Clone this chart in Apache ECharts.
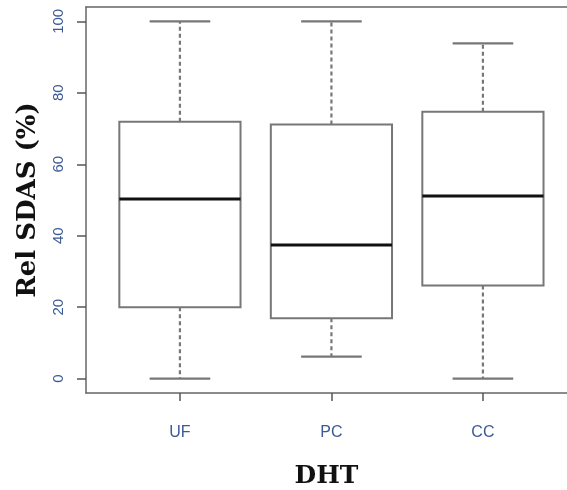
<!DOCTYPE html>
<html><head><meta charset="utf-8">
<script src="https://cdn.jsdelivr.net/npm/echarts@6/dist/echarts.min.js"></script>
<style>html,body{margin:0;padding:0;background:#fff}#c{width:567px;height:490px}</style>
</head><body><div id="c"></div>
<script>
const categories = ['UF', 'PC', 'CC'];
const whiskerLow = [0, 6.2, 0];
const q1 = [20, 16.9, 26.1];
const median = [50.3, 37.4, 51.1];
const q3 = [71.9, 71.1, 74.7];
const whiskerHigh = [100, 100, 93.8];
const yTicks = [0, 20, 40, 60, 80, 100];

const data = categories.map((c, i) => [i + 1, whiskerLow[i], q1[i], median[i], q3[i], whiskerHigh[i]]);

const frameLine = { show: true, onZero: false, lineStyle: { color: '#666', width: 1.5 } };

const chart = echarts.init(document.getElementById('c'));
chart.setOption({
  animation: false,
  grid: { left: 86, top: 7, right: 0, bottom: 97, show: false, outerBoundsMode: 'none', containLabel: false },
  xAxis: [{
    type: 'value', min: 0.38, max: 3.555, position: 'bottom',
    name: 'DHT', nameLocation: 'middle', nameGap: 71,
    nameTextStyle: { fontFamily: 'DejaVu Serif', fontWeight: 'bold', fontSize: 25, color: '#111' },
    axisLine: frameLine,
    splitLine: { show: false },
    axisTick: { show: true, customValues: [1, 2, 3], length: 8, lineStyle: { color: '#555', width: 1.5 } },
    axisLabel: { customValues: [1, 2, 3], formatter: v => categories[Math.round(v) - 1], margin: 32, fontSize: 16, color: '#3b5a95', fontFamily: 'Liberation Sans' }
  }, {
    type: 'value', min: 0.38, max: 3.555, position: 'top',
    axisLine: frameLine, axisTick: { show: false }, axisLabel: { show: false }, splitLine: { show: false }
  }],
  yAxis: {
    type: 'value', min: -4, max: 104,
    name: 'Rel SDAS (%)', nameLocation: 'middle', nameGap: 45,
    nameTextStyle: { fontFamily: 'DejaVu Serif', fontWeight: 'bold', fontSize: 26, color: '#111' },
    axisLine: frameLine,
    splitLine: { show: false },
    axisTick: { show: true, customValues: yTicks, length: 9, lineStyle: { color: '#555', width: 1.5 } },
    axisLabel: { customValues: yTicks, rotate: 90, margin: 20, fontSize: 15, color: '#3b5a95', fontFamily: 'Liberation Sans' }
  },
  series: [{
    type: 'custom',
    data: data,
    encode: { x: 0, y: [1, 2, 3, 4, 5] },
    renderItem: function (params, api) {
      const x = api.value(0);
      const bw = api.size([0.8, 0])[0];
      const cw = api.size([0.4, 0])[0];
      const pLow = api.coord([x, api.value(1)]);
      const pQ1 = api.coord([x, api.value(2)]);
      const pMed = api.coord([x, api.value(3)]);
      const pQ3 = api.coord([x, api.value(4)]);
      const pHigh = api.coord([x, api.value(5)]);
      const cx = pMed[0];
      const dash = { stroke: '#777', lineWidth: 2.2, lineDash: [4, 3] };
      const cap = { stroke: '#777', lineWidth: 2.2 };
      return {
        type: 'group',
        children: [
          { type: 'line', shape: { x1: cx, y1: pQ3[1], x2: cx, y2: pHigh[1] }, style: dash },
          { type: 'line', shape: { x1: cx, y1: pQ1[1], x2: cx, y2: pLow[1] }, style: dash },
          { type: 'line', shape: { x1: cx - cw / 2, y1: pHigh[1], x2: cx + cw / 2, y2: pHigh[1] }, style: cap },
          { type: 'line', shape: { x1: cx - cw / 2, y1: pLow[1], x2: cx + cw / 2, y2: pLow[1] }, style: cap },
          { type: 'rect', shape: { x: cx - bw / 2, y: pQ3[1], width: bw, height: pQ1[1] - pQ3[1] }, style: { fill: '#fff', stroke: '#777', lineWidth: 2 } },
          { type: 'line', shape: { x1: cx - bw / 2, y1: pMed[1], x2: cx + bw / 2, y2: pMed[1] }, style: { stroke: '#111', lineWidth: 3 } }
        ]
      };
    }
  }]
});
</script></body></html>
